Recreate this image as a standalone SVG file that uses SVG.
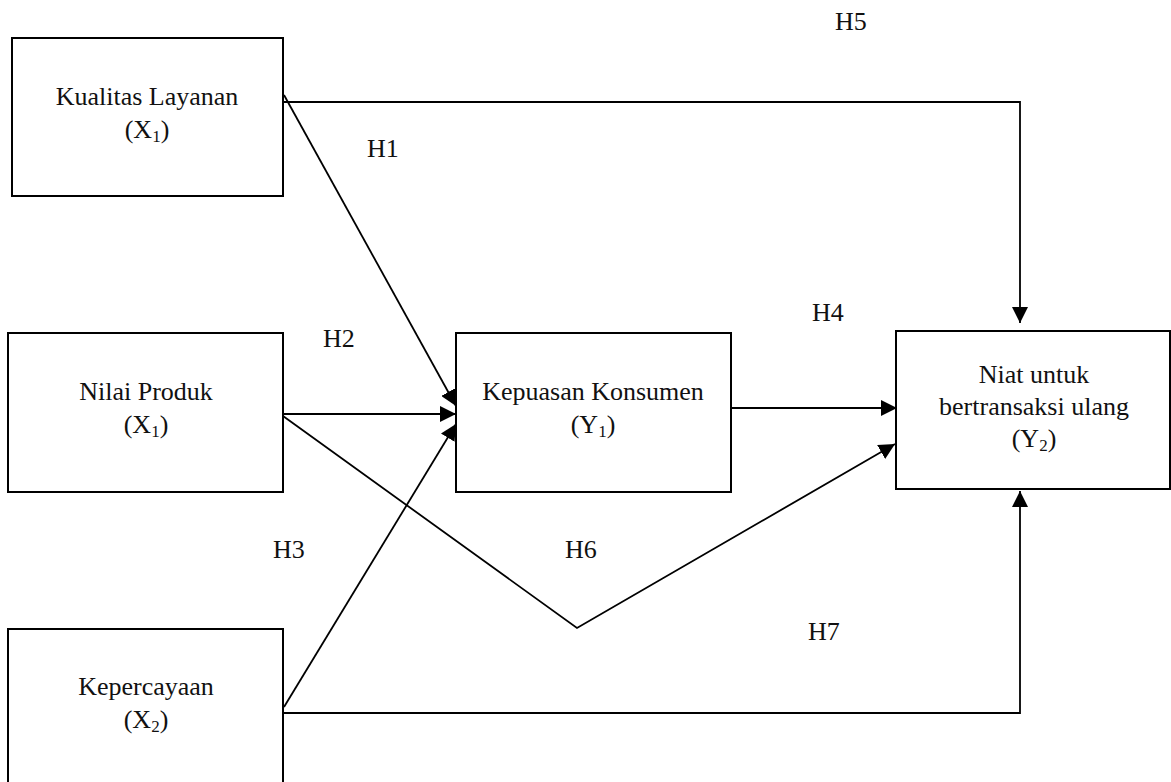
<svg xmlns="http://www.w3.org/2000/svg" width="1171" height="782" viewBox="0 0 1171 782">
<style>
.box{fill:#fff;stroke:#000;stroke-width:2}
.t{font-family:"Liberation Serif","Times New Roman",serif;font-size:26px;fill:#111;text-anchor:middle}
.lbl{font-family:"Liberation Serif","Times New Roman",serif;font-size:26px;fill:#111}
.sub{font-size:17px}
.c{fill:none;stroke:#000;stroke-width:1.8}
</style>
<defs>
<marker id="ah" viewBox="0 0 16 16" refX="16" refY="8" markerWidth="16" markerHeight="16" markerUnits="userSpaceOnUse" orient="auto">
<path d="M0,0 L16,8 L0,16 z" fill="#000"/>
</marker>
</defs>
<rect width="1171" height="782" fill="#fff"/>
<g id="connectors">
<polyline class="c" points="283,102 1020,102 1020,323" marker-end="url(#ah)"/>
<line class="c" x1="284" y1="95" x2="456" y2="406" marker-end="url(#ah)"/>
<line class="c" x1="283" y1="414" x2="456" y2="414" marker-end="url(#ah)"/>
<line class="c" x1="284" y1="707" x2="456" y2="424" marker-end="url(#ah)"/>
<polyline class="c" points="283,416 577,628 895,444" marker-end="url(#ah)"/>
<line class="c" x1="731" y1="408" x2="897" y2="408" marker-end="url(#ah)"/>
<polyline class="c" points="283,713 1020,713 1020,491" marker-end="url(#ah)"/>
</g>
<g id="labels">
<text class="lbl" x="835" y="30">H5</text>
<text class="lbl" x="367" y="157">H1</text>
<text class="lbl" x="323" y="347">H2</text>
<text class="lbl" x="812" y="321">H4</text>
<text class="lbl" x="273" y="558">H3</text>
<text class="lbl" x="565" y="558">H6</text>
<text class="lbl" x="808" y="640">H7</text>
</g>
<g id="kualitas">
<rect class="box" x="12" y="38" width="271" height="158"/>
<text class="t" x="147" y="105">Kualitas Layanan</text>
<text class="t" x="147" y="138">(X<tspan class="sub" dy="4">1</tspan><tspan dy="-4">)</tspan></text>
</g>
<g id="nilai">
<rect class="box" x="8" y="333" width="275" height="159"/>
<text class="t" x="146" y="400">Nilai Produk</text>
<text class="t" x="146" y="433">(X<tspan class="sub" dy="4">1</tspan><tspan dy="-4">)</tspan></text>
</g>
<g id="kepercayaan">
<rect class="box" x="8" y="629" width="275" height="170"/>
<text class="t" x="146" y="695">Kepercayaan</text>
<text class="t" x="146" y="728">(X<tspan class="sub" dy="4">2</tspan><tspan dy="-4">)</tspan></text>
</g>
<g id="kepuasan">
<rect class="box" x="456" y="333" width="275" height="159"/>
<text class="t" x="593" y="400">Kepuasan Konsumen</text>
<text class="t" x="593" y="433">(Y<tspan class="sub" dy="4">1</tspan><tspan dy="-4">)</tspan></text>
</g>
<g id="niat">
<rect class="box" x="896" y="331" width="274" height="158"/>
<text class="t" x="1034" y="383">Niat untuk</text>
<text class="t" x="1034" y="415">bertransaksi ulang</text>
<text class="t" x="1034" y="447">(Y<tspan class="sub" dy="4">2</tspan><tspan dy="-4">)</tspan></text>
</g>
</svg>
